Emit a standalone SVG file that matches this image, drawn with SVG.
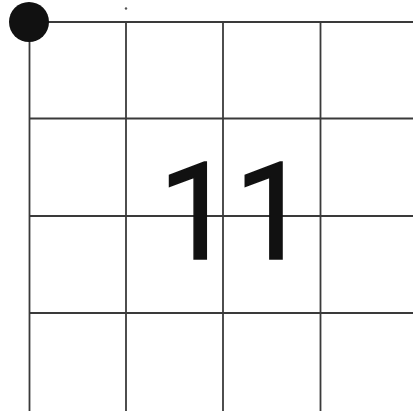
<svg xmlns="http://www.w3.org/2000/svg" width="413" height="411" viewBox="0 0 413 411">
<style>
.g{stroke:#3a3a3a;stroke-width:1.8;fill:none}
</style>
<rect width="413" height="411" fill="#fff"/>
<g id="grid">
<line class="g" x1="29.5" y1="22" x2="29.5" y2="411"/>
<line class="g" x1="126" y1="22" x2="126" y2="411"/>
<line class="g" x1="223" y1="22" x2="223" y2="411"/>
<line class="g" x1="320.5" y1="22" x2="320.5" y2="411"/>
<line class="g" x1="29.5" y1="22" x2="413" y2="22"/>
<line class="g" x1="29.5" y1="118.5" x2="413" y2="118.5"/>
<line class="g" x1="29.5" y1="216" x2="413" y2="216"/>
<line class="g" x1="29.5" y1="313" x2="413" y2="313"/>
</g>
<g id="dot">
<circle cx="29" cy="22" r="20" fill="#111"/>
</g>
<circle cx="126" cy="8.5" r="1.2" fill="#555"/>
<g id="label">
<text x="234" y="259" text-anchor="middle" font-family="Roboto, 'Noto Sans', sans-serif" font-size="135" fill="#111" stroke="#111" stroke-width="1.5">11</text>
</g>
</svg>
